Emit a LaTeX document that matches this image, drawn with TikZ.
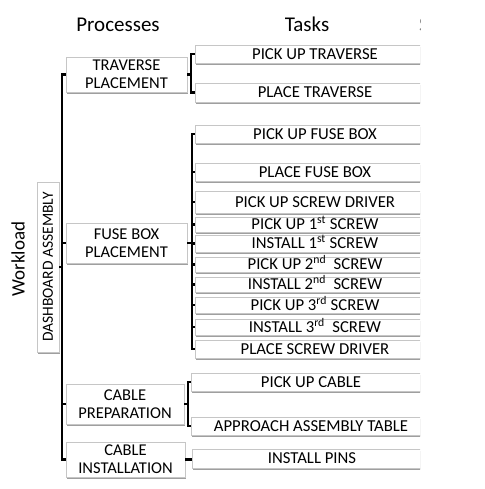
\documentclass[tikz,border=0pt]{standalone}
\usepackage{fontspec}
\setmainfont{Carlito}
\usetikzlibrary{shadows}
\begin{document}
\begin{tikzpicture}[x=1pt,y=-1pt,
  boxbase/.style={draw=gray!45, line width=0.6pt, fill=white, inner sep=0pt, align=center,
     drop shadow={shadow xshift=1.2pt, shadow yshift=-2pt, fill=gray!75, opacity=1}},
  proc/.style={boxbase, font=\fontsize{16.5}{18}\selectfont},
  task/.style={boxbase, minimum width=240pt, text height=10.6pt, text depth=0pt, font=\fontsize{16.7}{18}\selectfont},
  head/.style={anchor=base, font=\fontsize{21}{24}\selectfont},
  link/.style={line width=2.1pt, black, line join=miter}
]
\useasboundingbox (0,0) rectangle (484,489);

% headers
\node[head] (hp) at (118,32) {Processes};
\node[head] (ht) at (307,32) {Tasks};
\node[rotate=90, font=\fontsize{19}{22}\selectfont] (w) at (18,259) {Workload};

% dashboard box
\node[proc, rotate=90, minimum width=170pt, minimum height=22pt, font=\fontsize{15.5}{18}\selectfont] (d) at (48,267) {DASHBOARD ASSEMBLY};

% processes
\node[proc, minimum width=121pt, minimum height=35pt] (p1) at (126.5,74.5) {TRAVERSE\\PLACEMENT};
\node[proc, minimum width=121pt, minimum height=40pt] (p2) at (126.5,243) {FUSE BOX\\PLACEMENT};
\node[proc, minimum width=118pt, minimum height=40pt] (p3) at (125,404) {CABLE\\PREPARATION};
\node[proc, minimum width=119pt, minimum height=35pt] (p4) at (125.5,459.5) {CABLE\\INSTALLATION};

% tasks (clipped at right edge)
\begin{scope}
\clip (0,0) rectangle (420,489);
\node[head, anchor=base west, inner sep=0pt, text=gray] (hs) at (419,32) {S};
\node[task, minimum height=18pt] (t1) at (315,54) {PICK UP TRAVERSE};
\node[task, minimum height=19pt] (t2) at (315,92.5) {PLACE TRAVERSE};
\node[task, minimum height=18pt] (t3) at (315,134) {PICK UP FUSE BOX};
\node[task, minimum height=18pt] (t4) at (315,172) {PLACE FUSE BOX};
\node[task, minimum height=22pt] (t5) at (315,202) {PICK UP SCREW DRIVER};
\node[task, minimum height=15pt] (t6) at (315,224.5) {PICK UP 1\textsuperscript{st} SCREW};
\node[task, minimum height=17pt] (t7) at (315,243.5) {INSTALL 1\textsuperscript{st} SCREW};
\node[task, minimum height=15pt] (t8) at (315,264.5) {PICK UP 2\textsuperscript{nd}\ \ SCREW};
\node[task, minimum height=15pt] (t9) at (315,284.5) {INSTALL 2\textsuperscript{nd}\ \ SCREW};
\node[task, minimum height=16pt] (t10) at (315,305) {PICK UP 3\textsuperscript{rd} SCREW};
\node[task, minimum height=16pt] (t11) at (315,327) {INSTALL 3\textsuperscript{rd}\ \ SCREW};
\node[task, minimum height=18pt] (t12) at (315,349) {PLACE SCREW DRIVER};
\node[task, minimum height=18pt] (t13) at (311,382) {PICK UP CABLE};
\node[task, minimum height=18pt] (t14) at (311,426) {APPROACH ASSEMBLY TABLE};
\node[task, minimum height=19pt] (t15) at (312,458.5) {INSTALL PINS};
\end{scope}

% main bracket
\draw[link] (p1.west) -- ++(-4,0) |- (p4.west);
\draw[link] (p2.west) -- ++(-4,0);
\draw[link] (p3.west) -- ++(-4,0);
\draw[link] (d.south) -- ++(3,0);

% traverse bracket
\draw[link] (t1.west) -- ++(-4,0) |- (t2.west);
\draw[link] (p1.east) -- ++(4,0);

% fuse box bracket
\draw[link] (t3.west) -- ++(-3,0) |- (t12.west);
\foreach \t in {t4,t5,t6,t7,t8,t9,t10,t11} \draw[link] (\t.west) -- ++(-3,0);
\draw[link] (p2.east) -- ++(5,0);

% cable preparation bracket
\draw[link] (t13.west) -- ++(-3,0) |- (t14.west);
\draw[link] (p3.east) -- ++(4,0);

% cable installation
\draw[link] (p4.east) -- (p4.east -| t15.west);
\end{tikzpicture}
\end{document}
